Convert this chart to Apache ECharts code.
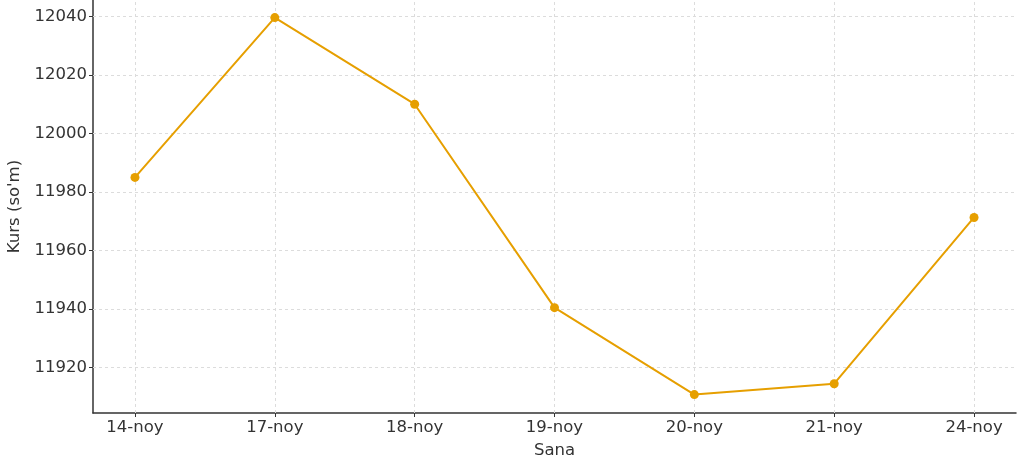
<!DOCTYPE html>
<html>
<head>
<meta charset="utf-8">
<script src="https://cdn.jsdelivr.net/npm/echarts@6/dist/echarts.min.js"></script>
<style>html,body{margin:0;padding:0;background:#fff}#c{width:1024px;height:469px}</style>
</head>
<body>
<div id="c"></div>
<script>
const categories = ['14-noy','17-noy','18-noy','19-noy','20-noy','21-noy','24-noy'];
const values = [11985, 12039.6, 12010, 11940.5, 11910.8, 11914.5, 11971.3];
const yTicks = [11920, 11940, 11960, 11980, 12000, 12020, 12040];

const idx = categories.map((c, i) => i);
const chart = echarts.init(document.getElementById('c'), null, {renderer: 'canvas'});
const font = '"DejaVu Sans", sans-serif';
chart.setOption({
  animation: false,
  textStyle: {fontFamily: font},
  grid: {left: 93, right: 8, top: 0, bottom: 56, containLabel: false, outerBoundsMode: 'none'},
  xAxis: {
    type: 'value', min: -0.3, max: categories.length - 0.7,
    name: 'Sana', nameLocation: 'middle', nameGap: 29,
    nameTextStyle: {fontFamily: font, fontSize: 16.5, color: '#333'},
    axisLine: {show: true, onZero: false, lineStyle: {color: '#333', width: 1.5}},
    axisTick: {show: true, customValues: idx, length: 4, lineStyle: {color: '#333'}},
    axisLabel: {customValues: idx, formatter: v => categories[Math.round(v)], fontFamily: font, fontSize: 16.5, color: '#333', margin: 6},
    splitLine: {show: false}
  },
  yAxis: {
    type: 'value', min: 11904.5, max: 12045.6,
    name: "Kurs (so'm)", nameLocation: 'middle', nameGap: 62,
    nameTextStyle: {fontFamily: font, fontSize: 16.5, color: '#333'},
    axisLine: {show: true, onZero: false, lineStyle: {color: '#333', width: 1.5}},
    axisTick: {show: true, customValues: yTicks, length: 4, lineStyle: {color: '#333'}},
    axisLabel: {customValues: yTicks, formatter: v => String(v), fontFamily: font, fontSize: 16.5, color: '#333', margin: 6},
    splitLine: {show: false}
  },
  series: [{
    type: 'line',
    data: values.map((v, i) => [i, v]),
    symbol: 'circle', symbolSize: 9,
    lineStyle: {color: '#E69F00', width: 2},
    itemStyle: {color: '#E69F00'},
    z: 5,
    markLine: {
      silent: true, symbol: 'none', label: {show: false},
      lineStyle: {color: '#dcdcdc', type: [3, 3], width: 1},
      data: idx.map(i => ({xAxis: i})).concat(yTicks.map(t => ({yAxis: t}))),
      z: 1
    }
  }]
});
</script>
</body>
</html>
